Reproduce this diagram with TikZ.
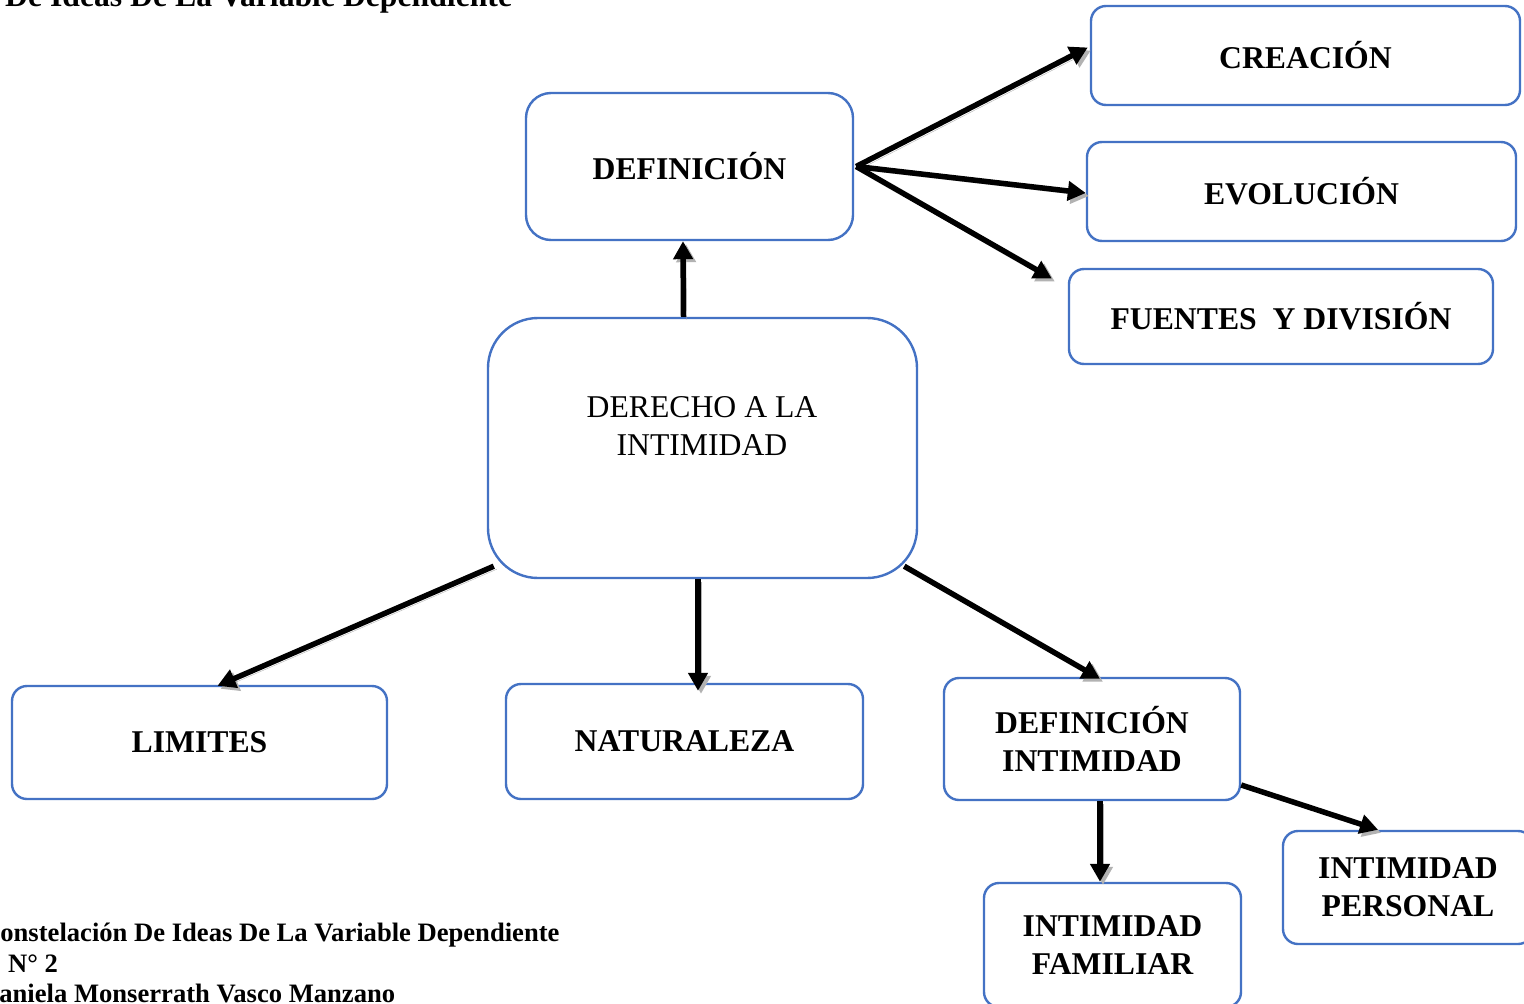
\documentclass[tikz,border=0pt]{standalone}
\usepackage{fontspec}
\setmainfont{Liberation Serif}
\usetikzlibrary{arrows.meta,calc}
\definecolor{boxblue}{HTML}{4472C4}
\tikzset{
  box/.style={draw=boxblue, line width=2.4pt, rounded corners=15pt, align=center,
    font=\fontsize{31.7}{38}\selectfont\bfseries, inner sep=0pt},
  conn/.style={line width=5.5pt, -{Triangle[length=18pt,width=19pt]},
    preaction={draw=gray!60, transform canvas={shift={(3pt,-3pt)}}}},
  caption/.style={font=\fontsize{26.6}{31}\selectfont\bfseries, anchor=base west, inner sep=0pt}
}
\begin{document}
\begin{tikzpicture}[x=1pt,y=-1pt]
\useasboundingbox (0,0) rectangle (1524,1004);
\clip (0,0) rectangle (1524,1004);
\fill[white] (0,0) rectangle (1524,1004);
% header
\node[font=\fontsize{31.7}{38}\selectfont\bfseries, anchor=base west, inner sep=0pt] (head) at (5,6) {De Ideas De La Variable Dependiente};
% boxes
\node[box, rounded corners=25pt, minimum width=327pt, minimum height=147pt] (def) at (689.5,166.5) {DEFINICIÓN};
\node[box, rounded corners=50pt, minimum width=429pt, minimum height=260pt] (center) at (702.5,448) {};
\node[align=center, font=\fontsize{31.7}{38}\selectfont, inner sep=0pt] (centertext) at (702,426) {DERECHO A LA\\INTIMIDAD};
\node[box, minimum width=429pt, minimum height=99pt] (crea) at (1305.5,55.5) {CREACIÓN};
\node[box, minimum width=429pt, minimum height=99pt] (evol) at (1301.5,191.5) {EVOLUCIÓN};
\node[box, minimum width=424pt, minimum height=95pt] (fuen) at (1281,316.5) {FUENTES\ \ Y DIVISIÓN};
\node[box, minimum width=375pt, minimum height=113pt] (lim) at (199.5,742.5) {LIMITES};
\node[box, minimum width=357pt, minimum height=115pt] (nat) at (684.5,741.5) {NATURALEZA};
\node[box, minimum width=296pt, minimum height=122pt] (defi) at (1092,739) {DEFINICIÓN\\INTIMIDAD};
\node[box, minimum width=250pt, minimum height=113pt] (per) at (1408,887.5) {INTIMIDAD\\PERSONAL};
\node[box, minimum width=257pt, minimum height=124pt] (fam) at (1112.5,945) {INTIMIDAD\\FAMILIAR};
% connectors
\draw[conn] ($(center.north)+(-19,0)$) -- ($(def.south)+(-6.5,0)$);
\draw[conn] ($(def.east)+(2,0)$) -- ($(crea.west)+(-2,-8)$);
\draw[conn] ($(def.east)+(2,0)$) -- ($(evol.west)+(0,1.5)$);
\draw[conn] ($(def.east)+(2,0)$) -- ($(fuen.west)+(-16,-38)$);
\draw[conn] ($(center.south west)+(7,-13)$) -- ($(lim.north)+(18,1)$);
\draw[conn] ($(center.south)+(-4.5,0)$) -- ($(nat.north)+(13.5,8)$);
\draw[conn] ($(center.south east)+(-14,-13)$) -- ($(defi.north)+(8,2)$);
\draw[conn] ($(defi.south)+(8,0)$) -- ($(fam.north)+(-12.5,0)$);
\draw[conn] ($(defi.east)+(0,46)$) -- ($(per.north)+(-30,0)$);
% caption
\node[caption] (cap1) at (-19,941) {Constelación De Ideas De La Variable Dependiente};
\node[caption] (cap2) at (8,972) {N° 2};
\node[caption] (cap3) at (-20,1002) {Daniela Monserrath Vasco Manzano};
\end{tikzpicture}
\end{document}
